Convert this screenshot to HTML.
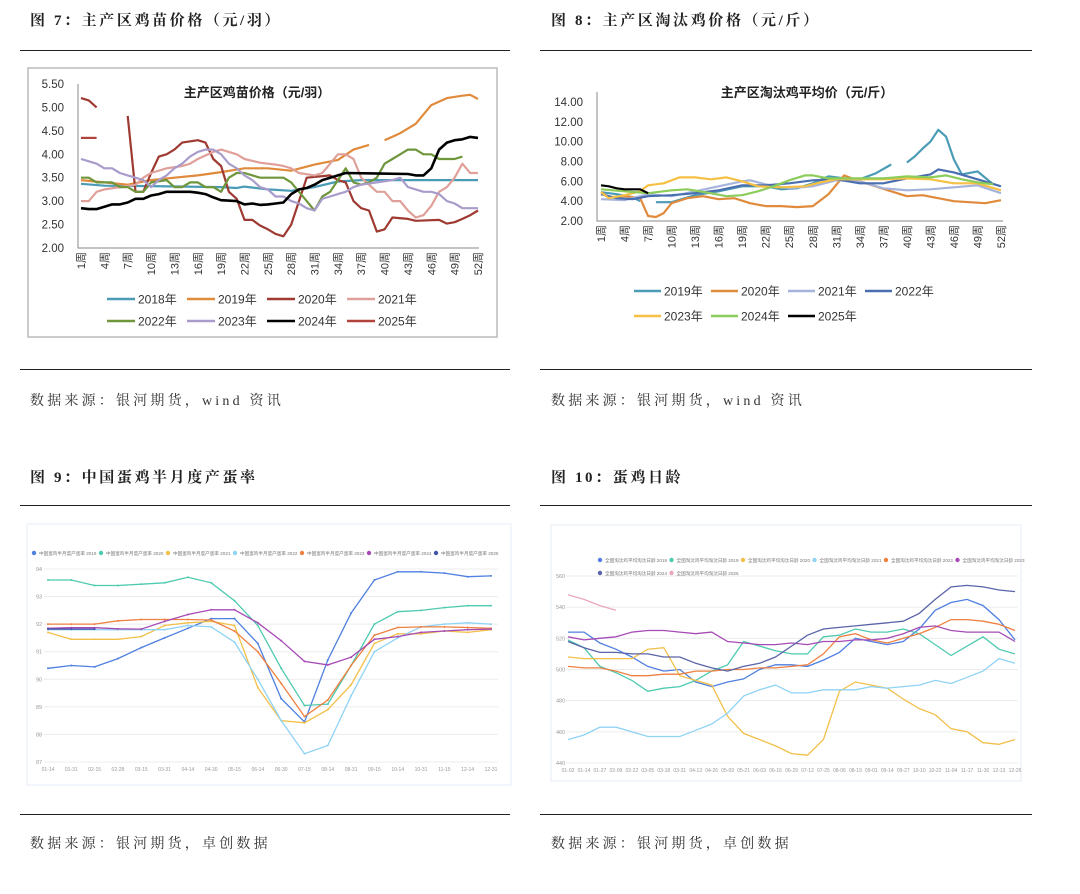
<!DOCTYPE html>
<html><head><meta charset="utf-8"><style>
body{margin:0;background:#fff;width:1080px;height:894px;overflow:hidden;position:relative;font-family:"Liberation Serif","Noto Serif CJK SC",serif}
.h{position:absolute;font-size:15px;font-weight:bold;color:#222;white-space:nowrap;letter-spacing:2.6px}
.src{position:absolute;font-size:14px;color:#333;white-space:nowrap;letter-spacing:3.2px}
.rule{position:absolute;height:1px;background:#222}
svg{position:absolute;left:0;top:0}
</style></head><body>
<div class="h" style="left:30px;top:9px">图 7：主产区鸡苗价格（元/羽）</div>
<div class="h" style="left:551px;top:9px">图 8：主产区淘汰鸡价格（元/斤）</div>
<div class="rule" style="left:20px;top:50px;width:490px"></div>
<div class="rule" style="left:540px;top:50px;width:492px"></div>
<div class="rule" style="left:20px;top:369px;width:490px"></div>
<div class="rule" style="left:540px;top:369px;width:492px"></div>
<div class="src" style="left:30px;top:390px">数据来源：银河期货，wind 资讯</div>
<div class="src" style="left:551px;top:390px">数据来源：银河期货，wind 资讯</div>
<div class="h" style="left:30px;top:466px">图 9：中国蛋鸡半月度产蛋率</div>
<div class="h" style="left:551px;top:466px">图 10：蛋鸡日龄</div>
<div class="rule" style="left:20px;top:505px;width:490px"></div>
<div class="rule" style="left:540px;top:505px;width:492px"></div>
<div class="rule" style="left:20px;top:814px;width:490px"></div>
<div class="rule" style="left:540px;top:814px;width:492px"></div>
<div class="src" style="left:30px;top:833px">数据来源：银河期货，卓创数据</div>
<div class="src" style="left:551px;top:833px">数据来源：银河期货，卓创数据</div>
<svg id="s" width="1080" height="894"></svg>
<script>
// ---- Chart 7 data (week, value) ----
const c7Names=["2018年","2019年","2020年","2021年","2022年","2023年","2024年","2025年"];
const c7Colors=["#4a9bb5","#e08a3c","#9e3a32","#e0a09a","#6e963a","#a99ccb","#000000","#b0443c"];
const c7TickWeeks=[1,4,7,10,13,16,19,22,25,28,31,34,37,40,43,46,49,52];
const c7YTicks=[2,2.5,3,3.5,4,4.5,5,5.5];
const c7s2018=[[1,3.37],[4,3.33],[10,3.32],[19,3.3],[21,3.28],[22,3.31],[25,3.25],[28,3.22],[31,3.3],[34,3.42],[37,3.45],[52,3.45]];
const c7s2019=[[1,3.45],[4,3.4],[7,3.35],[10,3.45],[13,3.5],[16,3.55],[19,3.62],[22,3.7],[25,3.7],[28,3.65],[31,3.78],[34,3.88],[36,4.1],[38,4.2],null,[40,4.3],[42,4.45],[44,4.65],[46,5.05],[48,5.2],[50,5.25],[51,5.27],[52,5.18]];
const c7s2020=[[1,5.2],[2,5.15],[3,5.0],null,[7,4.82],[8,3.2],[9,3.2],[10,3.6],[11,3.95],[12,4.0],[13,4.1],[14,4.25],[16,4.3],[17,4.25],[18,3.9],[19,3.75],[20,3.2],[21,3.05],[22,2.6],[23,2.6],[24,2.48],[25,2.4],[26,2.3],[27,2.25],[28,2.5],[29,3.0],[30,3.5],[33,3.55],[34,3.45],[35,3.4],[36,3.0],[37,2.85],[38,2.8],[39,2.35],[40,2.4],[41,2.65],[43,2.62],[44,2.58],[47,2.6],[48,2.52],[49,2.55],[50,2.62],[51,2.7],[52,2.8]];
const c7s2021=[[1,3.0],[2,3.0],[3,3.2],[4,3.25],[6,3.3],[8,3.35],[9,3.5],[10,3.6],[12,3.7],[14,3.75],[15,3.8],[16,3.9],[18,4.05],[19,4.1],[21,4.0],[22,3.9],[24,3.82],[26,3.78],[27,3.75],[28,3.7],[29,3.6],[31,3.55],[32,3.6],[33,3.8],[34,4.0],[35,4.0],[36,3.9],[37,3.5],[38,3.35],[39,3.2],[40,3.2],[41,3.0],[42,3.0],[43,2.8],[44,2.65],[45,2.7],[46,2.9],[47,3.2],[48,3.3],[49,3.5],[50,3.8],[51,3.6],[52,3.6]];
const c7s2022=[[1,3.5],[2,3.5],[3,3.4],[5,3.4],[6,3.3],[7,3.3],[8,3.2],[9,3.2],[10,3.4],[12,3.45],[13,3.3],[14,3.3],[15,3.4],[16,3.4],[17,3.3],[18,3.3],[19,3.2],[20,3.5],[21,3.6],[22,3.6],[24,3.5],[27,3.5],[28,3.4],[29,3.2],[30,3.0],[31,2.8],[32,3.1],[33,3.2],[34,3.45],[35,3.7],[36,3.4],[37,3.35],[38,3.4],[39,3.5],[40,3.8],[41,3.9],[42,4.0],[43,4.1],[44,4.1],[45,4.0],[46,4.0],[47,3.9],[49,3.9],[50,3.95]];
const c7s2023=[[1,3.9],[2,3.85],[3,3.8],[4,3.7],[5,3.7],[6,3.6],[7,3.55],[8,3.5],[9,3.45],[10,3.3],[11,3.45],[12,3.55],[13,3.7],[14,3.8],[15,3.95],[16,4.05],[17,4.1],[18,4.1],[19,4.0],[20,3.8],[21,3.7],[22,3.55],[23,3.45],[24,3.3],[25,3.25],[26,3.1],[27,3.1],[28,3.0],[29,2.95],[30,2.85],[31,2.8],[32,3.05],[33,3.1],[34,3.15],[35,3.2],[36,3.3],[37,3.35],[39,3.4],[41,3.45],[42,3.5],[43,3.3],[44,3.25],[45,3.2],[46,3.2],[47,3.15],[48,3.0],[49,2.95],[50,2.85],[52,2.85]];
const c7s2024=[[1,2.85],[2,2.83],[3,2.83],[4,2.88],[5,2.93],[6,2.93],[7,2.97],[8,3.05],[9,3.05],[10,3.12],[11,3.15],[12,3.2],[15,3.2],[16,3.18],[17,3.15],[18,3.08],[19,3.02],[21,3.0],[22,2.93],[23,2.95],[24,2.92],[25,2.93],[26,2.95],[27,2.97],[28,3.15],[29,3.25],[30,3.28],[31,3.35],[32,3.45],[33,3.5],[34,3.55],[35,3.6],[43,3.58],[44,3.55],[45,3.55],[46,3.7],[47,4.1],[48,4.25],[49,4.3],[50,4.32],[51,4.37],[52,4.35]];
const c7s2025=[[1,4.35],[3,4.35]];
// ---- Chart 8 data ----
const c8Names=["2019年","2020年","2021年","2022年","2023年","2024年","2025年"];
const c8Colors=["#4a9bb5","#e08a3c","#a6b4dc","#4a6fb0","#f5c043","#8ccc5a","#000000"];
const c8YTicks=[2,4,6,8,10,12,14];
const c8s2019=[[1,4.9],[3,4.7],[5,4.4],[6,4.0],null,[8,3.9],[10,3.9],[13,4.6],[16,5.0],[19,5.5],[22,5.5],[24,5.2],[26,5.3],[28,5.8],[30,6.5],[32,6.3],[34,6.2],[36,6.8],[38,7.7],null,[40,7.9],[41,8.5],[42,9.3],[43,10.0],[44,11.2],[45,10.5],[46,8.2],[47,6.7],[49,7.0],[51,5.7]];
const c8s2020=[[1,4.9],[2,4.4],[4,4.5],[6,4.3],[7,2.5],[8,2.4],[9,2.8],[10,3.8],[12,4.3],[14,4.5],[16,4.2],[18,4.3],[20,3.8],[22,3.5],[24,3.5],[26,3.4],[28,3.5],[30,4.7],[32,6.6],[34,6.0],[36,5.5],[38,5.0],[40,4.5],[42,4.6],[44,4.3],[46,4.0],[48,3.9],[50,3.8],[52,4.1]];
const c8s2021=[[1,4.2],[4,4.1],[7,4.7],[10,4.5],[13,5.0],[16,5.5],[19,6.0],[20,6.1],[22,5.7],[25,5.3],[28,5.5],[31,6.1],[34,6.0],[37,5.3],[40,5.1],[43,5.2],[46,5.4],[49,5.6],[52,4.8]];
const c8s2022=[[1,4.7],[3,4.3],[5,4.2],[7,4.5],[10,4.6],[13,4.8],[16,5.1],[19,5.6],[22,5.6],[25,5.8],[28,6.1],[31,6.2],[34,5.8],[37,5.8],[40,6.3],[43,6.7],[44,7.2],[46,6.9],[49,6.2],[52,5.5]];
const c8s2023=[[1,4.9],[2,4.3],[4,4.6],[6,5.0],[7,5.6],[9,5.8],[11,6.4],[13,6.4],[15,6.2],[17,6.4],[19,6.0],[21,5.5],[24,5.4],[27,5.5],[29,5.9],[31,6.2],[34,6.2],[37,6.2],[40,6.3],[43,6.2],[46,5.8],[49,5.8],[52,5.1]];
const c8s2024=[[1,5.2],[4,5.0],[7,4.8],[10,5.1],[12,5.2],[15,4.8],[17,4.5],[19,4.6],[21,5.0],[23,5.5],[25,6.1],[27,6.6],[28,6.6],[30,6.3],[33,6.3],[37,6.3],[40,6.5],[43,6.4],[45,6.6],[47,6.2],[49,5.9],[51,5.7]];
const c8s2025=[[1,5.6],[2,5.5],[3,5.3],[4,5.2],[6,5.2],[7,4.8]];
// ---- Chart 9 data ----
const c9Labels=["01-14","01-31","02-15","02-28","03-15","03-31","04-14","04-30","05-15","06-14","06-30","07-15","08-14","08-31","09-15","10-14","10-31","11-15","12-14","12-31"];
const c9YTicks=[87,88,89,90,91,92,93,94];
const c9Names=["中国蛋鸡半月度产蛋率 2019","中国蛋鸡半月度产蛋率 2020","中国蛋鸡半月度产蛋率 2021","中国蛋鸡半月度产蛋率 2022","中国蛋鸡半月度产蛋率 2023","中国蛋鸡半月度产蛋率 2024","中国蛋鸡半月度产蛋率 2025"];
const c9Colors=["#4f7fe0","#4ecab0","#f2c04a","#8fd3f5","#ee8040","#a64bb5","#4054a8"];
const c9s2019=[90.4,90.5,90.45,90.75,91.15,91.5,91.85,92.2,92.2,91.3,89.3,88.45,90.7,92.4,93.6,93.9,93.9,93.85,93.72,93.75];
const c9s2020=[93.6,93.6,93.4,93.4,93.45,93.5,93.7,93.5,92.85,91.95,90.4,89.05,89.1,90.5,92.0,92.45,92.5,92.6,92.67,92.67];
const c9s2021=[91.7,91.45,91.45,91.45,91.55,91.95,92.05,92.1,91.95,89.7,88.5,88.42,88.9,89.8,91.3,91.65,91.65,91.75,91.7,91.8];
const c9s2022=[91.8,91.8,91.8,91.8,91.8,91.8,91.95,91.9,91.35,90.0,88.5,87.3,87.6,89.4,91.0,91.5,91.9,92.0,92.05,92.0];
const c9s2023=[92.0,92.0,92.0,92.12,92.17,92.17,92.17,92.15,91.75,91.0,89.85,88.65,89.25,90.5,91.6,91.88,91.9,91.9,91.88,91.85];
const c9s2024=[91.85,91.87,91.87,91.83,91.82,92.1,92.35,92.52,92.52,92.05,91.4,90.65,90.52,90.8,91.45,91.55,91.7,91.75,91.8,91.82];
const c9s2025=[91.82,91.82,91.82];
// ---- Chart 10 data ----
const c10Labels=["01-02","01-14","01-27","02-09","02-22","03-05","03-18","03-31","04-13","04-26","05-09","05-21","06-03","06-16","06-29","07-12","07-25","08-06","08-19","09-01","09-14","09-27","10-10","10-22","11-04","11-17","11-30","12-13","12-26"];
const c10YTicks=[440,460,480,500,520,540,560];
const c10Names=["全国淘汰鸡平均淘汰日龄 2018","全国淘汰鸡平均淘汰日龄 2019","全国淘汰鸡平均淘汰日龄 2020","全国淘汰鸡平均淘汰日龄 2021","全国淘汰鸡平均淘汰日龄 2022","全国淘汰鸡平均淘汰日龄 2023","全国淘汰鸡平均淘汰日龄 2024","全国淘汰鸡平均淘汰日龄 2025"];
const c10Colors=["#4f7fe0","#4ecab0","#f2c04a","#8fd3f5","#ee8040","#a64bb5","#5a64a8","#eaa6c0"];
const c10s2018=[524,524,517,513,508,502,499,500,492,489,492,494,500,503,503,502,506,511,520,518,516,518,526,538,543,545,541,532,519];
const c10s2019=[519,514,502,498,493,486,488,489,493,499,503,518,515,512,510,510,521,522,526,524,524,526,523,516,509,515,521,513,510];
const c10s2020=[508,507,507,507,507,513,514,496,493,490,470,459,455,451,446,445,455,486,492,490,488,481,475,471,462,460,453,452,455];
const c10s2021=[455,458,463,463,460,457,457,457,461,465,472,483,487,490,485,485,487,487,487,489,488,489,490,493,491,495,499,507,504];
const c10s2022=[502,501,501,499,496,496,497,497,499,499,500,500,501,501,502,503,510,521,523,519,517,520,523,527,532,532,531,529,525];
const c10s2023=[521,519,520,521,524,525,525,524,523,524,518,517,516,516,517,516,518,518,519,519,520,523,527,528,525,524,524,524,518];
const c10s2024=[518,514,511,511,510,510,508,508,504,501,499,502,504,508,515,522,526,527,528,529,530,531,536,545,553,554,553,551,550];
const c10s2025=[548,545,541,538];

const NS="http://www.w3.org/2000/svg";
const svg=document.getElementById('s');
function mk(tag,attrs,parent){const e=document.createElementNS(NS,tag);for(const k in attrs)e.setAttribute(k,attrs[k]);(parent||svg).appendChild(e);return e;}
function txt(x,y,s,size,attrs){const t=mk('text',Object.assign({x:x,y:y,'font-size':size,fill:'#333','font-family':'"Liberation Sans","Noto Sans CJK SC",sans-serif'},attrs||{}));t.textContent=s;return t;}
function pathFromPairs(pairs,fx,fy){let d='',start=true;for(const p of pairs){if(!p){start=true;continue;}d+=(start?'M':'L')+fx(p[0]).toFixed(1)+','+fy(p[1]).toFixed(1);start=false;}return d;}

// ===== Chart 7 =====
const f7=mk('rect',{x:28,y:68,width:469,height:269,fill:'#fff',stroke:'#bbb','stroke-width':1.5});


const x7=w=>81+(w-1)*397/51, y7=v=>248-(v-2)*164/3.5;
const ax7=mk('path',{d:'M78,84V248H479',stroke:'#888',fill:'none','stroke-width':1});


c7YTicks.forEach(v=>{const t=txt(64,y7(v)+4,v.toFixed(2),11.5,{'text-anchor':'end'});

});
c7TickWeeks.forEach(w=>{const t=txt(0,0,w+'周',11,{'text-anchor':'end',transform:`translate(${x7(w)+4},252) rotate(-90)`});

});
const tt7=txt(257,97,'主产区鸡苗价格（元/羽）',13,{'text-anchor':'middle','font-weight':'bold',fill:'#222'});


[c7s2018,c7s2019,c7s2020,c7s2021,c7s2022,c7s2023,c7s2024,c7s2025].forEach((s,i)=>{
const p=mk('path',{d:pathFromPairs(s,x7,y7),stroke:c7Colors[i],fill:'none','stroke-width':i==6?2.6:2.2,'stroke-linejoin':'round'});

});
c7Names.forEach((n,i)=>{const lx=107+(i%4)*80, ly=i<4?299:321;
const l=mk('line',{x1:lx,y1:ly,x2:lx+28,y2:ly,stroke:c7Colors[i],'stroke-width':2.5});


const t=txt(lx+31,ly+4.5,n,12);

});

// ===== Chart 8 =====
const x8=w=>601+(w-1)*400/51, y8=v=>221-(v-2)*119/12;
const ax8=mk('path',{d:'M597,92V221H1003',stroke:'#888',fill:'none','stroke-width':1});


c8YTicks.forEach(v=>{const t=txt(583,y8(v)+4,v.toFixed(2),11.5,{'text-anchor':'end'});

});
c7TickWeeks.forEach(w=>{const t=txt(0,0,w+'周',11,{'text-anchor':'end',transform:`translate(${x8(w)+4},225) rotate(-90)`});

});
const tt8=txt(807,97,'主产区淘汰鸡平均价（元/斤）',13,{'text-anchor':'middle','font-weight':'bold',fill:'#222'});


[c8s2019,c8s2020,c8s2021,c8s2022,c8s2023,c8s2024,c8s2025].forEach((s,i)=>{
const p=mk('path',{d:pathFromPairs(s,x8,y8),stroke:c8Colors[i],fill:'none','stroke-width':2.2,'stroke-linejoin':'round'});

});
c8Names.forEach((n,i)=>{const lx=634+(i%4)*77, ly=i<4?291:316;
const l=mk('line',{x1:lx,y1:ly,x2:lx+27,y2:ly,stroke:c8Colors[i],'stroke-width':2.5});


const t=txt(lx+30,ly+4.5,n,12);

});

// ===== Chart 9 =====
const p9=mk('rect',{x:27,y:524,width:484,height:261,fill:'#fff',stroke:'#eef3fa','stroke-width':1.5});


const x9=i=>48+i*(491-48)/19, y9=v=>762-(v-87)*193/7;
c9YTicks.forEach(v=>{const g=mk('line',{x1:44,x2:498,y1:y9(v),y2:y9(v),stroke:'#ececec','stroke-width':1});


const t=txt(36,y9(v)+2,String(v),5.5,{fill:'#999'});

});
c9Labels.forEach((s,i)=>{const t=txt(x9(i),771,s,5,{'text-anchor':'middle',fill:'#999'});

});
[c9s2019,c9s2020,c9s2021,c9s2022,c9s2023,c9s2024,c9s2025].forEach((s,i)=>{
const p=mk('path',{d:pathFromPairs(s.map((v,k)=>[k,v]),x9,y9),stroke:c9Colors[i],fill:'none','stroke-width':1.3});


s.forEach((v,k)=>{const c=mk('circle',{cx:x9(k),cy:y9(v),r:1,fill:c9Colors[i]});

});});
c9Names.forEach((n,i)=>{const lx=34+i*67;
const c=mk('circle',{cx:lx,cy:553,r:2.2,fill:c9Colors[i]});


const t=txt(lx+5,555,n,4.6,{fill:'#777'});

});

// ===== Chart 10 =====
const p10=mk('rect',{x:551,y:525,width:470,height:256,fill:'#fff',stroke:'#eef3fa','stroke-width':1.5});


const x10=i=>568+i*(1015-568)/28, y10=v=>576+(560-v)*187/120;
c10YTicks.forEach(v=>{const g=mk('line',{x1:566,x2:1018,y1:y10(v),y2:y10(v),stroke:'#ececec','stroke-width':1});


const t=txt(556,y10(v)+2,String(v),5.5,{fill:'#999'});

});
c10Labels.forEach((s,i)=>{const t=txt(x10(i),772,s,5,{'text-anchor':'middle',fill:'#999'});

});
[c10s2018,c10s2019,c10s2020,c10s2021,c10s2022,c10s2023,c10s2024,c10s2025].forEach((s,i)=>{
const p=mk('path',{d:pathFromPairs(s.map((v,k)=>[k,v]),x10,y10),stroke:c10Colors[i],fill:'none','stroke-width':1.3});

});
c10Names.forEach((n,i)=>{const lx=600+(i%6)*71.5, ly=i<6?560:573;
const c=mk('circle',{cx:lx,cy:ly,r:2.2,fill:c10Colors[i]});


const t=txt(lx+5,ly+2,n,4.6,{fill:'#777'});

});
</script>
</body></html>
